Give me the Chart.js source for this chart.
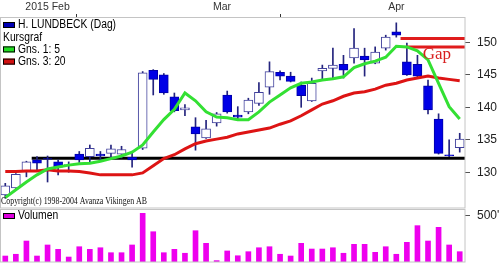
<!DOCTYPE html>
<html>
<head>
<meta charset="utf-8">
<script src="https://cdn.jsdelivr.net/npm/chart.js@4.4.1/dist/chart.umd.min.js"></script>
<style>
  html, body { margin: 0; padding: 0; background: #fff; }
  #wrap { position: relative; width: 500px; height: 266px; overflow: hidden; background: #fff; }
  #priceChart { position: absolute; left: 0; top: 0; }
  #volumeChart { position: absolute; left: 0; top: 209px; }
</style>
</head>
<body>
<div id="wrap">
  <canvas id="priceChart" width="500" height="209"></canvas>
  <canvas id="volumeChart" width="500" height="57"></canvas>
</div>
<script>
// x axis: trading days 0..43, month labels sit over the month spans
const monthLabels = ["2015 Feb", "Mar", "Apr"];
const monthLabelAt = [4, 20.5, 37];
const monthBreaks = [9.5, 31.5];
const priceTicks = [130, 135, 140, 145, 150];
const volumeTicks = [500];

const open = [126.5, 127.6, 130.2, 131.9, 132.1, 131.6, 131.0, 132.8, 132.4, 132.8,
  132.9, 132.8, 132.3, 133.7, 145.7, 145.0, 141.6, 139.6, 137.0, 135.3,
  137.6, 141.9, 138.8, 139.3, 140.6, 143.1, 145.4, 144.8, 143.4, 141.0,
  145.6, 146.0, 146.6, 147.6, 147.9, 146.8, 149.1, 151.6, 147.0, 146.6,
  143.3, 138.2, 132.7, 133.8];
const high = [128.3, 129.8, 131.7, 132.4, 132.5, 131.9, 131.6, 133.2, 134.2, 133.2,
  134.2, 134.0, 133.2, 145.5, 145.8, 145.2, 142.2, 140.4, 138.4, 138.0,
  139.2, 142.5, 140.1, 141.4, 143.8, 147.0, 145.6, 145.4, 143.9, 144.5,
  146.5, 149.1, 148.0, 152.1, 149.1, 149.3, 151.1, 153.0, 149.9, 148.0,
  144.2, 139.0, 135.0, 136.0];
const low = [126.0, 127.3, 129.3, 130.4, 128.5, 129.6, 130.0, 131.5, 131.5, 131.8,
  132.0, 132.2, 130.8, 133.5, 141.9, 142.0, 139.3, 138.7, 133.4, 135.2,
  137.1, 139.1, 138.0, 139.0, 140.3, 142.0, 144.2, 143.9, 140.0, 140.9,
  144.2, 144.5, 144.5, 146.8, 144.8, 146.7, 148.8, 150.8, 144.9, 144.6,
  139.0, 132.8, 132.4, 133.1];
const close = [127.9, 129.7, 131.6, 131.4, 132.0, 130.8, 131.2, 131.9, 133.7, 132.5,
  133.6, 133.5, 131.9, 145.3, 144.3, 142.2, 139.5, 139.9, 135.9, 136.7,
  139.0, 139.3, 138.5, 141.1, 142.3, 145.5, 144.8, 144.0, 141.8, 143.7,
  146.0, 146.5, 145.7, 149.1, 147.3, 148.5, 150.8, 151.1, 145.0, 144.8,
  139.6, 132.9, 132.5, 135.1];

// moving averages as drawn (Gns. 1: 5 and Gns. 3: 20)
const ma5 = [126.1, 127.3, 128.5, 129.6, 130.5, 130.8, 131.1, 131.3, 131.4, 131.7,
  132.1, 132.5, 133.1, 134.2, 136.2, 138.1, 139.7, 142.2, 141.0, 139.3,
  138.5, 138.4, 138.1, 138.1, 139.3, 140.8, 141.9, 143.0, 143.7, 143.9,
  144.2, 144.4, 144.7, 146.1, 146.7, 147.1, 147.7, 149.4, 149.3, 148.7,
  147.3, 143.7, 140.1, 138.2];
const ma20 = [130.1, 130.1, 130.2, 130.2, 130.4, 130.2, 130.2, 130.1, 129.9, 129.6,
  129.6, 129.6, 129.6, 129.9, 131.0, 132.1, 132.7, 133.6, 134.4, 134.8,
  135.1, 135.4, 135.9, 136.2, 136.5, 136.8, 137.4, 137.9, 138.7, 139.6,
  140.5, 141.0, 141.7, 142.2, 142.4, 142.8, 143.4, 143.7, 144.2, 144.5,
  144.8, 144.5, 144.3, 144.1];

// volume in thousands
const volume = [65, 84, 228, 65, 185, 138, 54, 166, 138, 155,
  101, 101, 185, 529, 329, 101, 138, 95, 340, 203,
  15, 120, 68, 112, 155, 166, 84, 65, 203, 141,
  141, 155, 95, 192, 192, 105, 166, 84, 214, 395,
  228, 377, 185, 112];

const supportLevel = 132.15;
const supportFrom = 2.5;
const gapLevels = [150.6, 149.3];
const gapFrom = [37.4, 37.95];
const gapLabel = { text: "Gap", x: 39.5, y: 147.4 };
const copyright = "Copyright(c) 1998-2004 Avanza Vikingen AB";

const legendRows = [
  { text: "H. LUNDBECK (Dag)", color: "#0000b4" },
  { text: "Kursgraf", color: null },
  { text: "Gns. 1: 5", color: "#22dd22" },
  { text: "Gns. 3: 20", color: "#d01010" },
];

Chart.defaults.font.family = "'Liberation Sans', Arial, sans-serif";
Chart.defaults.animation = false;

const xMin = -0.5;
const xMax = close.length - 0.5;
const days = close.map((_, i) => i);
const isUp = (i) => close[i] >= open[i];

const frameColor = "#c4c4c4";

const drawFrame = (ctx, area) => {
  ctx.save();
  ctx.strokeStyle = frameColor;
  ctx.lineWidth = 1;
  ctx.strokeRect(0.5, area.top + 0.5, area.right - 0.5, area.bottom - area.top - 0.5);
  ctx.restore();
};

const drawLegendRow = (ctx, x, y, text, color) => {
  ctx.font = "12px 'Liberation Sans', Arial, sans-serif";
  ctx.textBaseline = "middle";
  ctx.textAlign = "left";
  let tx = x;
  if (color) {
    ctx.fillStyle = color;
    ctx.fillRect(x, y - 3, 12, 6);
    ctx.strokeStyle = "#000";
    ctx.lineWidth = 1;
    ctx.strokeRect(x + 0.5, y - 2.5, 11, 5);
    tx = x + 15;
  }
  ctx.fillStyle = "#000";
  const w = ctx.measureText(text).width * 0.86;
  ctx.fillText(text, tx, y, w);
};

// keep the axis from pushing the plot in for half a label height
const fitRightAxis = (axis) => {
  axis.width = 35;
  axis.paddingTop = 0;
  axis.paddingBottom = 0;
};

const priceDecor = {
  id: "priceDecor",
  beforeDraw(chart) {
    const { ctx, width, height } = chart;
    ctx.save();
    ctx.fillStyle = "#fff";
    ctx.fillRect(0, 0, width, height);
    ctx.restore();
  },
  afterDraw(chart) {
    const { ctx, chartArea } = chart;
    const xs = chart.scales.x;
    const ys = chart.scales.y;
    drawFrame(ctx, chartArea);

    ctx.save();
    legendRows.forEach((row, k) => drawLegendRow(ctx, 3, 25 + k * 12.2, row.text, row.color));

    ctx.font = "17px 'Liberation Serif', 'Times New Roman', serif";
    ctx.fillStyle = "#d82020";
    ctx.textBaseline = "alphabetic";
    ctx.fillText(gapLabel.text, xs.getPixelForValue(gapLabel.x), ys.getPixelForValue(gapLabel.y));

    ctx.font = "10px 'Liberation Serif', 'Times New Roman', serif";
    ctx.fillStyle = "#111";
    ctx.fillText(copyright, 1, 204, 146);
    ctx.restore();
  },
};

const volumeDecor = {
  id: "volumeDecor",
  beforeDraw(chart) {
    const { ctx, width, height } = chart;
    ctx.save();
    ctx.fillStyle = "#fff";
    ctx.fillRect(0, 0, width, height);
    ctx.restore();
  },
  afterDraw(chart) {
    const { ctx, chartArea } = chart;
    drawFrame(ctx, chartArea);
    ctx.save();
    drawLegendRow(ctx, 3, 7, "Volumen", "#dd00dd");
    ctx.restore();
  },
};

const priceChart = new Chart(document.getElementById("priceChart"), {
  type: "bar",
  data: {
    datasets: [
      {
        type: "line",
        label: "Gns. 1: 5",
        data: days.map((i) => ({ x: i, y: ma5[i] })),
        borderColor: "#33e033",
        borderWidth: 3,
        pointRadius: 0,
        order: 0,
      },
      {
        type: "line",
        label: "Gns. 3: 20",
        data: days.map((i) => ({ x: i, y: ma20[i] })),
        borderColor: "#dd1414",
        borderWidth: 3,
        pointRadius: 0,
        order: 0,
      },
      {
        type: "line",
        label: "gap top",
        data: [{ x: gapFrom[0], y: gapLevels[0] }, { x: xMax, y: gapLevels[0] }],
        borderColor: "#e01c1c",
        borderWidth: 3,
        pointRadius: 0,
        order: 0,
      },
      {
        type: "line",
        label: "gap bottom",
        data: [{ x: gapFrom[1], y: gapLevels[1] }, { x: xMax, y: gapLevels[1] }],
        borderColor: "#e01c1c",
        borderWidth: 3,
        pointRadius: 0,
        order: 0,
      },
      {
        label: "body",
        data: days.map((i) => ({ x: i, y: [open[i], close[i]] })),
        backgroundColor: days.map((i) => (isUp(i) ? "#ffffff" : "#0000e6")),
        borderColor: days.map((i) => (isUp(i) ? "#40409c" : "#0000a8")),
        borderWidth: 1,
        borderSkipped: false,
        barThickness: 9,
        grouped: false,
        order: 1,
      },
      {
        label: "wick",
        data: days.map((i) => ({ x: i, y: [low[i], high[i]] })),
        backgroundColor: "#24247e",
        borderWidth: 0,
        barThickness: 1,
        grouped: false,
        order: 2,
      },
      {
        type: "line",
        label: "support",
        data: [{ x: supportFrom, y: supportLevel }, { x: xMax, y: supportLevel }],
        borderColor: "#000",
        borderWidth: 3,
        pointRadius: 0,
        order: 3,
      },
    ],
  },
  options: {
    responsive: false,
    layout: { padding: { left: 0, right: 0, top: 0, bottom: 1 } },
    plugins: { legend: { display: false }, tooltip: { enabled: false } },
    scales: {
      x: {
        type: "linear",
        position: "top",
        min: xMin,
        max: xMax,
        offset: false,
        afterBuildTicks: (axis) => {
          axis.ticks = monthLabelAt.concat(monthBreaks).sort((a, b) => a - b).map((v) => ({ value: v }));
        },
        afterFit: (axis) => {
          axis.height = 17;
          axis.paddingLeft = 0;
          axis.paddingRight = 0;
        },
        ticks: {
          autoSkip: false,
          maxRotation: 0,
          padding: 1,
          color: "#333",
          font: { size: 10.5 },
          callback: (v) => {
            const k = monthLabelAt.indexOf(v);
            return k >= 0 ? monthLabels[k] : "";
          },
        },
        grid: {
          drawOnChartArea: false,
          tickLength: 3,
          tickColor: (c) => (c.tick && monthBreaks.includes(c.tick.value) ? "#333" : "rgba(0,0,0,0)"),
        },
        border: { display: false },
      },
      y: {
        position: "right",
        min: 124.5,
        max: 153.9,
        afterBuildTicks: (axis) => {
          axis.ticks = priceTicks.map((v) => ({ value: v }));
        },
        afterFit: fitRightAxis,
        ticks: { padding: 7, color: "#222", font: { size: 12 } },
        grid: { drawOnChartArea: false, tickLength: 5, tickColor: "#555" },
        border: { display: false },
      },
    },
  },
  plugins: [priceDecor],
});

const volumeChart = new Chart(document.getElementById("volumeChart"), {
  type: "bar",
  data: {
    datasets: [
      {
        label: "Volumen",
        data: days.map((i) => ({ x: i, y: volume[i] })),
        backgroundColor: "#ee00ee",
        barThickness: 5,
        grouped: false,
      },
    ],
  },
  options: {
    responsive: false,
    layout: { padding: { left: 0, right: 0, top: 0, bottom: 4 } },
    plugins: { legend: { display: false }, tooltip: { enabled: false } },
    scales: {
      x: { type: "linear", display: false, min: xMin, max: xMax, offset: false },
      y: {
        position: "right",
        min: 0,
        max: 576,
        afterBuildTicks: (axis) => {
          axis.ticks = volumeTicks.map((v) => ({ value: v }));
        },
        afterFit: fitRightAxis,
        ticks: { padding: 7, color: "#222", font: { size: 12 }, callback: (v) => v + "'" },
        grid: { drawOnChartArea: false, tickLength: 5, tickColor: "#555" },
        border: { display: false },
      },
    },
  },
  plugins: [volumeDecor],
});
</script>
</body>
</html>
